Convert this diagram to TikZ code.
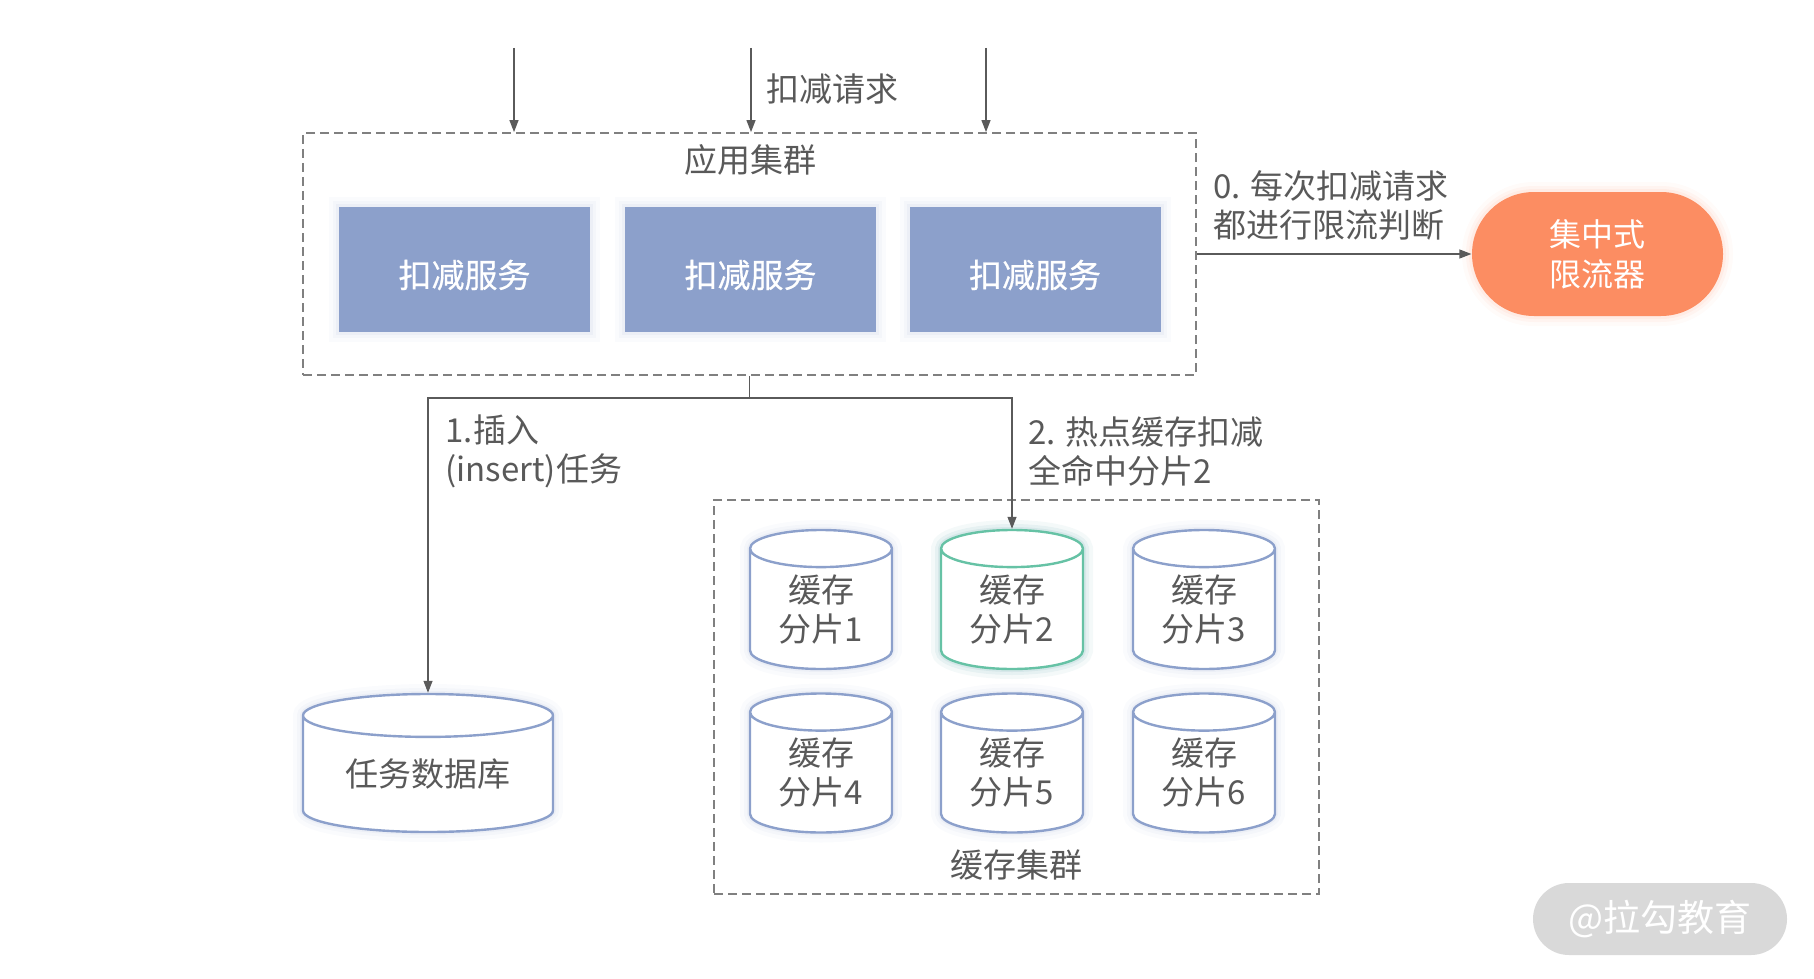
\documentclass[tikz,border=0pt]{standalone}
\usepackage{fontspec}
\setmainfont{Noto Sans CJK SC}
\newfontfamily\medfont{Noto Sans CJK SC}[FakeBold=0.6]
\usetikzlibrary{arrows.meta, shapes.geometric, positioning}
\definecolor{setblue}{HTML}{8CA0CB}
\definecolor{setgreen}{HTML}{66C2A5}
\definecolor{setorange}{HTML}{FC8D62}
\definecolor{txtgray}{HTML}{595959}
\definecolor{linegray}{HTML}{5A5A5A}
\definecolor{dashgray}{HTML}{808080}
\definecolor{markgray}{HTML}{D9D9D9}
\tikzset{
  lbl/.style={font=\fontsize{33}{39}\selectfont, text=txtgray, inner sep=0pt},
  glow/.style={preaction={draw=#1, draw opacity=0.04, line width=20pt},
    preaction={draw=#1, draw opacity=0.06, line width=12pt},
    preaction={draw=#1, draw opacity=0.08, line width=6pt}},
  cluster/.style={draw=dashgray, line width=1.8pt, dash pattern=on 9pt off 5pt},
  service/.style={rectangle, fill=setblue, glow=setblue, minimum width=251pt, minimum height=125pt,
    text=white, text height=36pt, text depth=0pt, font=\fontsize{33}{39}\medfont},
  shard/.style={cylinder, shape border rotate=90, aspect=0.44, draw=setblue, line width=2.4pt,
    fill=white, glow=setblue, minimum width=142pt, minimum height=139pt, align=center, lbl,
    anchor=shape center},
}
\begin{document}
\begin{tikzpicture}[x=1pt, y=-1pt, >={Triangle[length=12pt,width=9pt]}, line width=1.2pt]
\useasboundingbox (0,0) rectangle (1814,979);
\begin{scope}
\node[cluster, minimum width=893pt, minimum height=242pt](app) at (749.5,254){};
\node[lbl](apptitle) at (750,160){应用集群};
\node[service](s1) at (464.5,269.5){扣减服务};
\node[service](s2) at (750.5,269.5){扣减服务};
\node[service](s3) at (1035,269.5){扣减服务};
\coordinate(in1) at (514,48);
\coordinate(in2) at (751,48);
\coordinate(in3) at (986,48);
\foreach \i in {1,2,3} \draw[->, linegray](in\i)--(in\i |- app.north);
\node[lbl, anchor=west](req) at (766,89){扣减请求};
\end{scope}
\begin{scope}
\node[rounded corners=62pt, fill=setorange, glow=setorange, minimum width=251pt, minimum height=124pt,
  text=white, align=center, font=\fontsize{32}{40}\selectfont](limiter) at (1597.5,254){集中式\\限流器};
\draw[->, linegray](app.east)--(limiter.west);
\node[lbl, anchor=west, align=left](limit) at (1213,205){0. 每次扣减请求\\都进行限流判断};
\end{scope}
\begin{scope}
\node[cluster, minimum width=605pt, minimum height=394pt](cache) at (1016.5,697){};
\node[lbl](cachetitle) at (1016,865){缓存集群};
\node[shard](c1) at (821,599.5){缓存\\分片1};
\node[shard, draw=setgreen, glow=setgreen](c2) at (1012,599.5){缓存\\分片2};
\node[shard](c3) at (1204,599.5){缓存\\分片3};
\node[shard](c4) at (821,763){缓存\\分片4};
\node[shard](c5) at (1012,763){缓存\\分片5};
\node[shard](c6) at (1204,763){缓存\\分片6};
\node[shard, minimum width=250pt, minimum height=138pt, aspect=0.26](db) at (428,763){任务数据库};
\end{scope}
\draw[linegray](app.south)--++(0,22) coordinate(split);
\draw[->, linegray](split)-|(db.north);
\draw[->, linegray](split)-|(c2.north);
\node[lbl, anchor=west, align=left](ins) at (445,451){1.插入\\(insert)任务};
\node[lbl, anchor=west, align=left](hot) at (1028,451){2. 热点缓存扣减\\全命中分片2};
\node[rounded corners=36pt, fill=markgray, minimum width=254pt, minimum height=72pt,
  text=white, font=\fontsize{37}{40}\selectfont](mark) at (1660,919){@拉勾教育};
\end{tikzpicture}
\end{document}
